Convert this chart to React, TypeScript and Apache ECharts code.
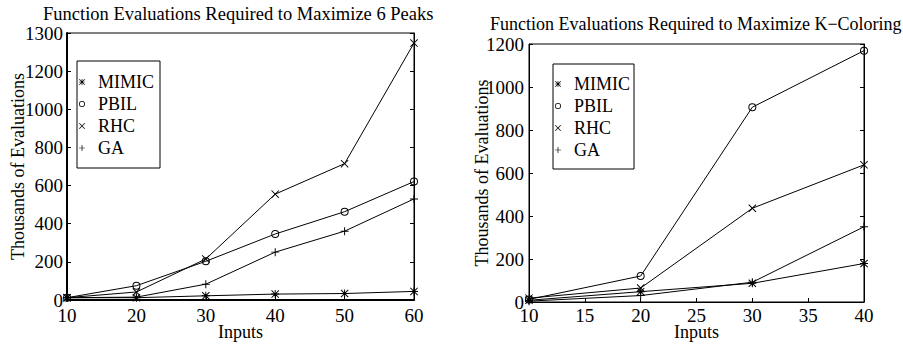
import { useEffect, useRef } from 'react';
import * as echarts from 'echarts';

// ---- Data: Function Evaluations Required to Maximize 6 Peaks ----
const peaksInputs = [10, 20, 30, 40, 50, 60];
const peaksMimic = [12, 12, 22, 31, 34, 45];
const peaksPbil = [12, 75, 203, 346, 463, 621];
const peaksRhc = [12, 42, 215, 555, 715, 1347];
const peaksGa = [12, 15, 83, 251, 361, 530];
const peaksYTickLabels = ['0', '200', '400', '600', '800', '1000', '1200', '1300'];

// ---- Data: Function Evaluations Required to Maximize K-Coloring ----
const kcolInputs = [10, 20, 30, 40];
const kcolMimic = [8, 48, 87, 179];
const kcolPbil = [12, 121, 906, 1169];
const kcolRhc = [18, 65, 436, 638];
const kcolGa = [4, 30, 92, 350];
const kcolYTickLabels = ['0', '200', '400', '600', '800', '1000', '1200'];

const seriesNames = ['MIMIC', 'PBIL', 'RHC', 'GA'];
const peaksTitle = 'Function Evaluations Required to Maximize 6 Peaks';
const kcolTitle = 'Function Evaluations Required to Maximize K\u2212Coloring';
const xName = 'Inputs';
const yName = 'Thousands of Evaluations';

const PLUS = 'path://M4.4,0H5.6V4.4H10V5.6H5.6V10H4.4V5.6H0V4.4H4.4Z';
const CROSS =
  'path://M0,0.85L0.85,0L5,4.15L9.15,0L10,0.85L5.85,5L10,9.15L9.15,10L5,5.85L0.85,10L0,9.15L4.15,5Z';
const ASTER =
  'path://M4.4,0H5.6V4.4H10V5.6H5.6V10H4.4V5.6H0V4.4H4.4Z M0,0.85L0.85,0L5,4.15L9.15,0L10,0.85L5.85,5L10,9.15L9.15,10L5,5.85L0.85,10L0,9.15L4.15,5Z';
const RING =
  'path://M5,0A5,5,0,1,1,5,10A5,5,0,1,1,5,0Z M5,1.2A3.8,3.8,0,1,0,5,8.8A3.8,3.8,0,1,0,5,1.2Z';
const symbols = [ASTER, RING, CROSS, PLUS];

const FONT = "'Liberation Serif', 'DejaVu Serif', serif";
const txt = { color: '#000', fontFamily: FONT, fontSize: 18 };
const tickTxt = { color: '#000', fontFamily: FONT, fontSize: 19, lineHeight: 14 };

function mkSeries(name: string, symbol: string, xs: number[], ys: number[], axis: number) {
  return {
    type: 'line',
    name,
    xAxisIndex: axis,
    yAxisIndex: axis * 2,
    data: xs.map((x, i) => [x, ys[i]]),
    symbol,
    symbolSize: 8,
    showAllSymbol: true,
    clip: false,
    lineStyle: { color: '#000', width: 1 },
    itemStyle: { color: '#000', borderWidth: 0 },
    emphasis: { disabled: true },
  };
}

function mkX(grid: number, min: number, max: number, interval: number, lw: number, margin: number, gap: number) {
  return {
    gridIndex: grid,
    type: 'value',
    min,
    max,
    interval,
    position: 'bottom',
    axisLine: { show: true, onZero: false, lineStyle: { color: '#000', width: lw } },
    axisTick: { show: true, inside: true, length: 4, lineStyle: { color: '#000', width: 1 } },
    axisLabel: { ...tickTxt, margin, formatter: (v: number) => String(v) },
    splitLine: { show: false },
    name: xName,
    nameLocation: 'middle',
    nameGap: gap,
    nameMoveOverlap: false,
    nameTextStyle: { ...txt, lineHeight: 14 },
  };
}

function mkY(grid: number, max: number, lw: number, margin: number, gap: number, labels: string[]) {
  return {
    gridIndex: grid,
    type: 'value',
    min: 0,
    max,
    interval: 200,
    position: 'left',
    axisLine: { show: true, lineStyle: { color: '#000', width: lw } },
    axisTick: { show: true, inside: true, length: 4, lineStyle: { color: '#000', width: 1 } },
    axisLabel: { ...tickTxt, margin, formatter: (v: number) => labels[Math.round(v / 200)] },
    splitLine: { show: false },
    name: yName,
    nameLocation: 'middle',
    nameGap: gap,
    nameMoveOverlap: false,
    nameTextStyle: txt,
  };
}

function mkYRight(grid: number, max: number) {
  return {
    gridIndex: grid,
    type: 'value',
    min: 0,
    max,
    interval: 200,
    position: 'right',
    axisLine: { show: true, lineStyle: { color: '#000', width: 1 } },
    axisTick: { show: true, inside: true, length: 4, lineStyle: { color: '#000', width: 1 } },
    axisLabel: { show: false },
    splitLine: { show: false },
  };
}

function mkLegend(left: number, top: number, padding: number[]) {
  return {
    orient: 'vertical',
    left,
    top,
    padding,
    itemGap: 4,
    itemWidth: 14,
    itemHeight: 6,
    borderColor: '#000',
    borderWidth: 1,
    backgroundColor: '#fff',
    selectedMode: false,
    textStyle: { ...txt, padding: [0, 0, 0, 4] },
    itemStyle: { borderWidth: 0 },
    data: seriesNames.map((n, i) => ({ name: n, icon: symbols[i] })),
  };
}

export default function App() {
  const ref = useRef<HTMLDivElement>(null);
  useEffect(() => {
    if (!ref.current) return;
    const chart = echarts.init(ref.current, undefined, { renderer: 'svg' });
    const peaksSets = [peaksMimic, peaksPbil, peaksRhc, peaksGa];
    const kcolSets = [kcolMimic, kcolPbil, kcolRhc, kcolGa];
    chart.setOption({
      animation: false,
      backgroundColor: '#fff',
      title: [
        { text: peaksTitle, left: 43, top: 4, padding: 0, textStyle: { ...txt, fontSize: 18.5, fontWeight: 'normal' } },
        { text: kcolTitle, left: 490, top: 15, padding: 0, textStyle: { ...txt, fontSize: 18, fontWeight: 'normal' } },
      ],
      legend: [mkLegend(77, 61, [12, 6, 11, 2]), mkLegend(553, 64, [11, 4, 10, 2])],
      grid: [
        { left: 67, right: 489, top: 33, bottom: 42, show: true, borderColor: '#000', borderWidth: 1 },
        { left: 529, right: 39, top: 44, bottom: 40, show: true, borderColor: '#000', borderWidth: 1 },
      ],
      xAxis: [mkX(0, 10, 60, 10, 2, 8.5, 25), mkX(1, 10, 40, 5, 1, 6.5, 23)],
      yAxis: [
        mkY(0, 1400, 2, 4, 40, peaksYTickLabels),
        mkYRight(0, 1400),
        mkY(1, 1200, 1, 5, 38, kcolYTickLabels),
        mkYRight(1, 1200),
      ],
      series: [
        ...seriesNames.map((n, i) => mkSeries(n, symbols[i], peaksInputs, peaksSets[i], 0)),
        ...seriesNames.map((n, i) => mkSeries(n, symbols[i], kcolInputs, kcolSets[i], 1)),
      ],
    });
    return () => chart.dispose();
  }, []);
  return <div ref={ref} style={{ position: 'absolute', left: 0, top: 0, width: 903, height: 346 }} />;
}
